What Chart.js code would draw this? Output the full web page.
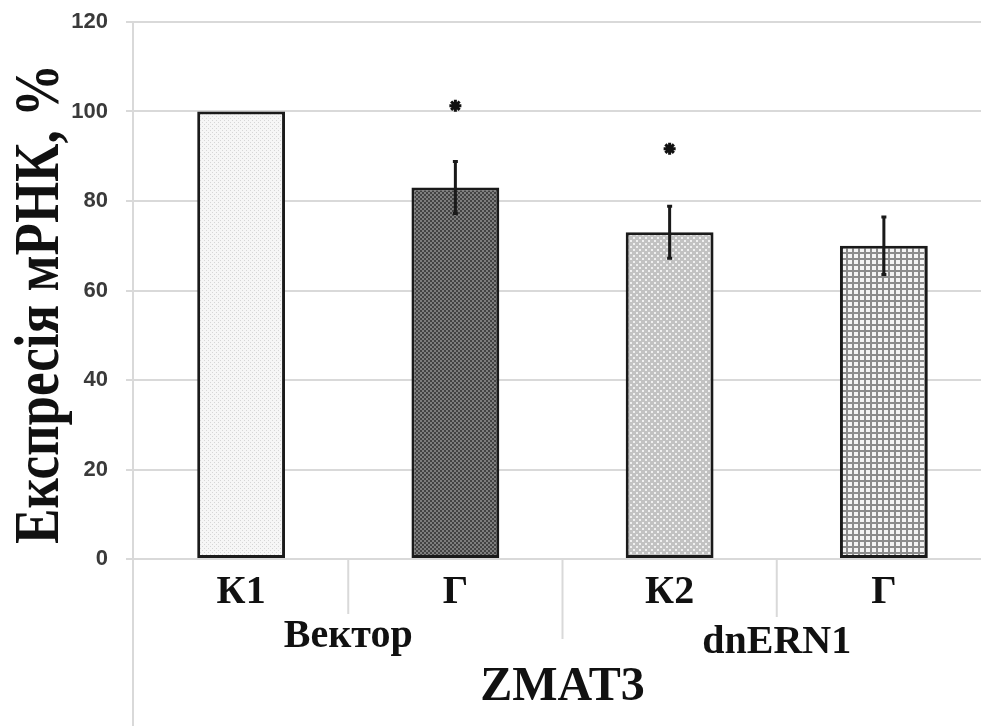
<!DOCTYPE html>
<html>
<head>
<meta charset="utf-8">
<script src="https://cdn.jsdelivr.net/npm/chart.js@4"></script>
<style>
  html, body { margin: 0; padding: 0; background: #fff; overflow: hidden; }
  #wrap { width: 1000px; height: 726px; }
</style>
</head>
<body>
<div id="wrap"><canvas id="chart"></canvas></div>
<script>
// data
const categories = ['К1', 'Г', 'К2', 'Г'];
const expression = [100, 83, 73, 70];
const errors = [0, 5.8, 5.8, 6.4];
const stars = [null, 101.3, 91.7, null];
const groupLabels = ['Вектор', 'dnERN1'];
const groupSpans = [[0, 1], [2, 3]];
const outerLabel = 'ZMAT3';
const yTicks = [0, 20, 40, 60, 80, 100, 120];
const yTitle = 'Експресія мРНК, %';

function makePattern(size, draw) {
    const c = document.createElement('canvas');
    c.width = size; c.height = size;
    const g = c.getContext('2d');
    draw(g);
    return document.getElementById('chart').getContext('2d').createPattern(c, 'repeat');
}

const fills = [
    makePattern(4, g => {
        g.fillStyle = '#f6f6f6'; g.fillRect(0, 0, 4, 4);
        g.fillStyle = '#d6d6d6'; g.fillRect(0, 0, 1, 1); g.fillRect(2, 2, 1, 1);
    }),
    makePattern(4, g => {
        g.fillStyle = '#434343'; g.fillRect(0, 0, 4, 4);
        g.fillStyle = '#7e7e7e'; g.fillRect(0, 0, 2, 2); g.fillRect(2, 2, 2, 2);
    }),
    makePattern(6, g => {
        g.fillStyle = '#c2c2c2'; g.fillRect(0, 0, 6, 6);
        g.fillStyle = '#f0f0f0'; g.fillRect(0, 0, 2, 2); g.fillRect(3, 3, 2, 2);
    }),
    makePattern(6, g => {
        g.fillStyle = '#f4f4f4'; g.fillRect(0, 0, 6, 6);
        g.fillStyle = '#8c8c8c'; g.fillRect(0, 0, 6, 2); g.fillRect(0, 0, 2, 6);
    })
];

const decorPlugin = {
    id: 'decor',
    beforeDatasetsDraw(chart) {
        const { ctx, chartArea, scales } = chart;
        const x = scales.x;
        ctx.save();
        ctx.strokeStyle = '#d9d9d9';
        ctx.lineWidth = 2;
        // vertical axis line running to the bottom
        ctx.beginPath();
        ctx.moveTo(chartArea.left - 1, chartArea.top);
        ctx.lineTo(chartArea.left - 1, chart.height);
        ctx.stroke();
        // separators between categories
        const lens = [55, 80, 58];
        for (let i = 0; i < categories.length - 1; i++) {
            const sx = (x.getPixelForValue(i) + x.getPixelForValue(i + 1)) / 2;
            ctx.beginPath();
            ctx.moveTo(sx, chartArea.bottom);
            ctx.lineTo(sx, chartArea.bottom + lens[i]);
            ctx.stroke();
        }
        ctx.restore();
    },
    afterDatasetsDraw(chart) {
        const { ctx, chartArea, scales } = chart;
        const x = scales.x, y = scales.y;
        ctx.save();
        // error bars
        ctx.strokeStyle = '#1a1a1a';
        ctx.lineWidth = 3;
        expression.forEach((v, i) => {
            if (!errors[i]) return;
            const px = x.getPixelForValue(i);
            const hi = y.getPixelForValue(v + errors[i]);
            const lo = y.getPixelForValue(v - errors[i]);
            ctx.beginPath();
            ctx.moveTo(px, hi); ctx.lineTo(px, lo);
            ctx.moveTo(px - 2.5, hi); ctx.lineTo(px + 2.5, hi);
            ctx.moveTo(px - 2.5, lo); ctx.lineTo(px + 2.5, lo);
            ctx.stroke();
        });
        // group labels
        ctx.fillStyle = '#111';
        ctx.textAlign = 'center';
        ctx.textBaseline = 'alphabetic';
        ctx.font = 'bold 40px "Liberation Serif"';
        const gy = [647, 653];
        groupSpans.forEach((s, i) => {
            const cx = (x.getPixelForValue(s[0]) + x.getPixelForValue(s[1])) / 2;
            ctx.fillText(groupLabels[i], cx, gy[i]);
        });
        ctx.font = 'bold 48px "Liberation Serif"';
        const mid = (x.getPixelForValue(0) + x.getPixelForValue(categories.length - 1)) / 2;
        ctx.fillText(outerLabel, mid, 700);
        // y title, stretched like the original
        ctx.translate(58, 304);
        ctx.rotate(-Math.PI / 2);
        ctx.scale(1, 1.2);
        ctx.font = 'bold 53px "Liberation Serif"';
        ctx.fillText(yTitle, 0, 0);
        ctx.restore();
    }
};

new Chart(document.getElementById('chart'), {
    data: {
        labels: categories,
        datasets: [{
            type: 'bar',
            data: expression,
            backgroundColor: fills,
            borderColor: '#1a1a1a',
            borderWidth: 3,
            borderSkipped: false,
            categoryPercentage: 1,
            barPercentage: 0.41,
            order: 2
        }, {
            type: 'line',
            data: stars,
            showLine: false,
            pointStyle: 'star',
            pointRadius: 6,
            pointBorderWidth: 3,
            pointBorderColor: '#111',
            pointBackgroundColor: '#111',
            order: 1
        }]
    },
    options: {
        responsive: true,
        maintainAspectRatio: false,
        animation: false,
        layout: { padding: { top: 22, right: 9, left: 0, bottom: 0 } },
        plugins: { legend: { display: false }, tooltip: { enabled: false } },
        scales: {
            x: {
                offset: true,
                grid: { display: false, drawTicks: false },
                border: { display: false },
                ticks: {
                    padding: 10,
                    color: '#111',
                    font: { family: 'Liberation Serif', size: 40, weight: 'bold' }
                },
                afterFit: s => { s.height = 167; }
            },
            y: {
                min: 0,
                max: 120,
                afterBuildTicks: s => { s.ticks = yTicks.map(v => ({ value: v })); },
                grid: { color: '#d9d9d9', lineWidth: 2, tickLength: 8 },
                border: { display: false },
                ticks: {
                    padding: 18,
                    color: '#3a3a3a',
                    font: { family: 'Liberation Sans', size: 22, weight: 'bold' }
                },
                afterFit: s => {
                    s.width = 134;
                    s.paddingTop = 0;
                    s.paddingBottom = 0;
                }
            }
        }
    },
    plugins: [decorPlugin]
});
</script>
</body>
</html>
